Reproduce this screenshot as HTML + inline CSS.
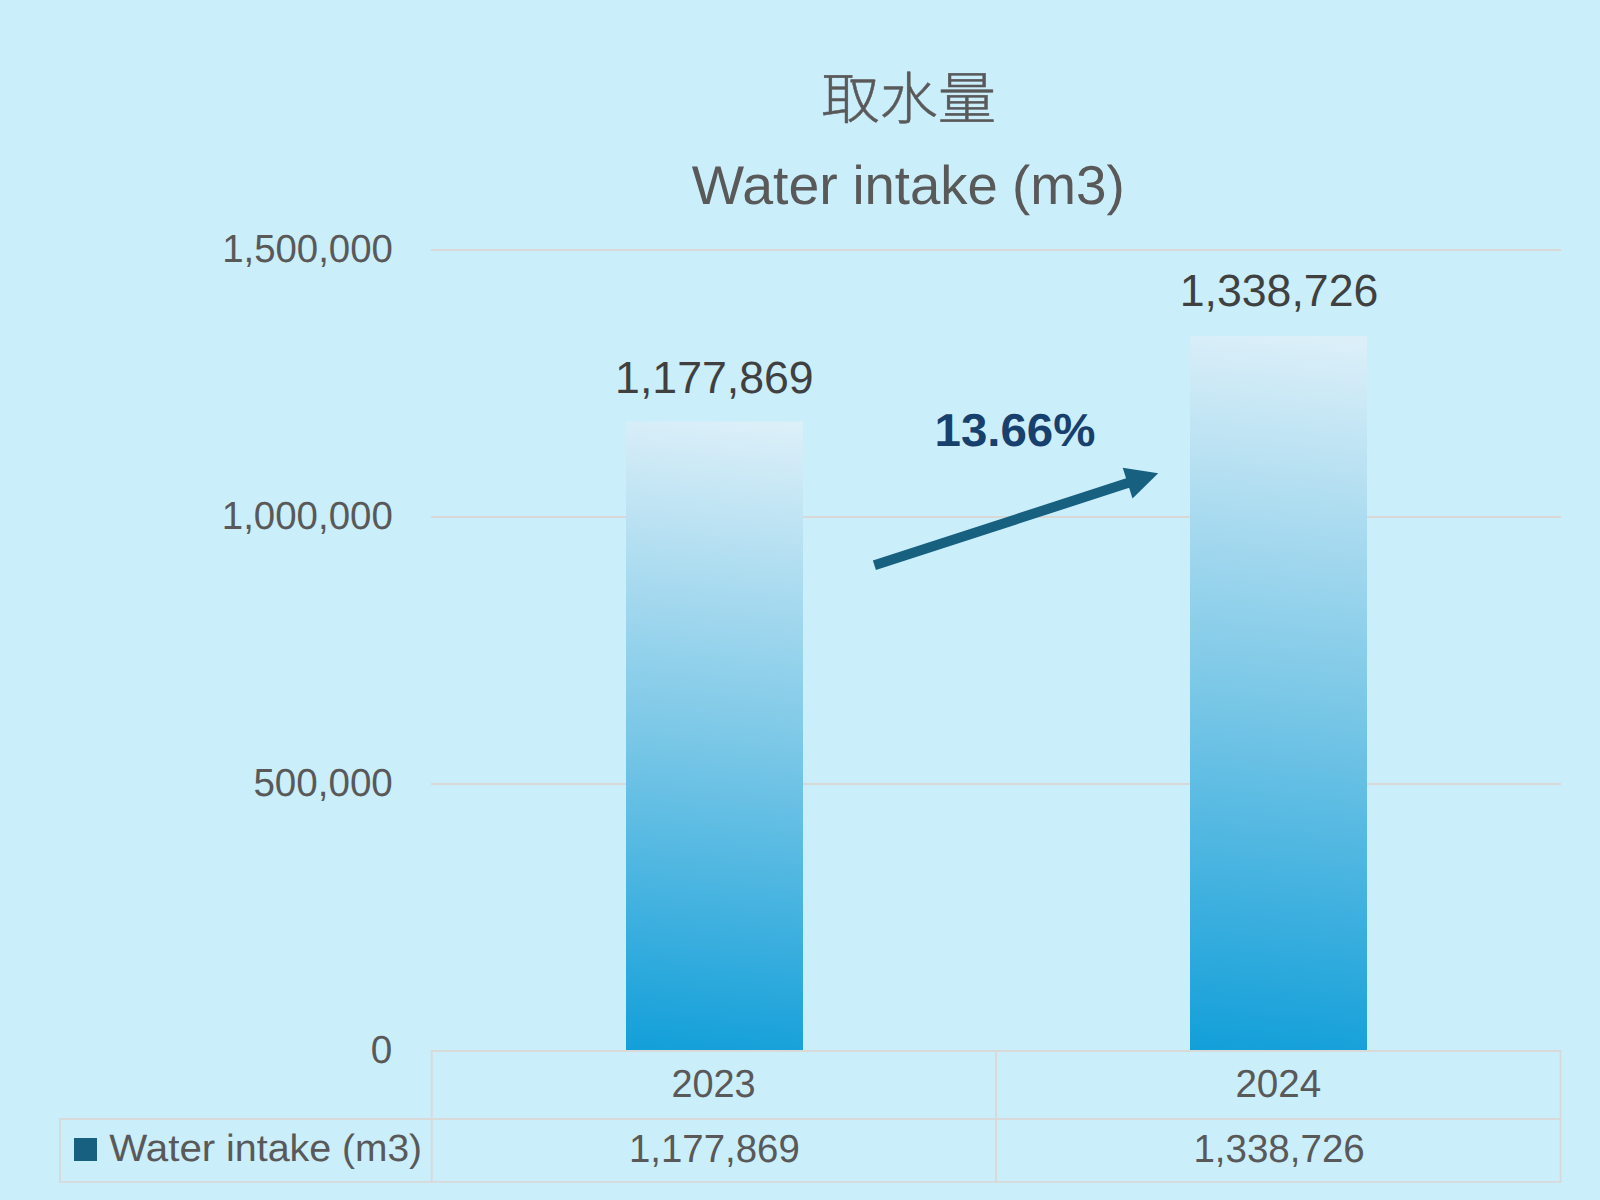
<!DOCTYPE html>
<html lang="zh-Hant">
<head>
<meta charset="utf-8">
<title>取水量 Water intake (m3)</title>
<style>
html,body{margin:0;padding:0;background:#cbeefb;}
body{width:1600px;height:1200px;overflow:hidden;}
svg{display:block;}
text{font-family:"Liberation Sans","Noto Sans CJK TC",sans-serif;fill:#595959;text-rendering:geometricPrecision;}
.cjk{font-family:"Noto Sans CJK TC","Noto Sans CJK SC",sans-serif;font-weight:300;stroke:#595959;stroke-width:0.5px;}
.dl{fill:#404040;}
.pct{font-weight:bold;fill:#17406d;}
</style>
</head>
<body>
<svg width="1600" height="1200" viewBox="0 0 1600 1200">
  <defs>
    <linearGradient id="bar1" gradientUnits="userSpaceOnUse" x1="803" y1="421.6" x2="735.8" y2="1061.5">
      <stop offset="0" stop-color="#ddf0f9"/>
      <stop offset="0.5" stop-color="#7cc8e7"/>
      <stop offset="1" stop-color="#129fd9"/>
    </linearGradient>
    <linearGradient id="bar2" gradientUnits="userSpaceOnUse" x1="1367" y1="335.8" x2="1290.8" y2="1060.6">
      <stop offset="0" stop-color="#ddf0f9"/>
      <stop offset="0.5" stop-color="#7cc8e7"/>
      <stop offset="1" stop-color="#129fd9"/>
    </linearGradient>
  </defs>
  <rect x="0" y="0" width="1600" height="1200" fill="#cbeefb"/>

  <!-- gridlines -->
  <g fill="#dad8d7">
    <rect x="431" y="249" width="1130" height="2"/>
    <rect x="431" y="516" width="1130" height="2"/>
    <rect x="431" y="783" width="1130" height="2"/>
  </g>

  <!-- bars -->
  <rect x="626" y="421.6" width="177" height="628.4" fill="url(#bar1)"/>
  <rect x="1190" y="335.8" width="177" height="714.2" fill="url(#bar2)"/>

  <!-- data table lines -->
  <g stroke="#d9d9d9" stroke-width="1.9" fill="none">
    <line x1="430.8" y1="1051" x2="1561.4" y2="1051"/>
    <line x1="59" y1="1119" x2="1561.4" y2="1119"/>
    <line x1="59" y1="1181.9" x2="1561.4" y2="1181.9"/>
    <line x1="59.9" y1="1118.1" x2="59.9" y2="1182.8"/>
    <line x1="431.7" y1="1050.1" x2="431.7" y2="1182.8"/>
    <line x1="996.1" y1="1050.1" x2="996.1" y2="1182.8"/>
    <line x1="1560.5" y1="1050.1" x2="1560.5" y2="1182.8"/>
  </g>

  <!-- title -->
  <text id="t_cjk" class="cjk" x="821.2" y="119.2" font-size="57" textLength="175" lengthAdjust="spacingAndGlyphs">取水量</text>
  <text id="t_title" y="204" font-size="54.7"><tspan id="tw1" x="691.8" textLength="146.0" lengthAdjust="spacingAndGlyphs">Water</tspan> <tspan id="tw2" x="852.4" textLength="145.4" lengthAdjust="spacingAndGlyphs">intake</tspan> <tspan id="tw3" x="1012.1" textLength="112.8" lengthAdjust="spacingAndGlyphs">(m3)</tspan></text>

  <!-- axis labels -->
  <text id="a1" x="222.2" y="262" font-size="39.2" textLength="170.7" lengthAdjust="spacingAndGlyphs">1,500,000</text>
  <text id="a2" x="221.8" y="529" font-size="39.2" textLength="171" lengthAdjust="spacingAndGlyphs">1,000,000</text>
  <text id="a3" x="253.4" y="796" font-size="39.2" textLength="139.4" lengthAdjust="spacingAndGlyphs">500,000</text>
  <text id="a4" x="370.8" y="1063" font-size="39.2" textLength="21.5" lengthAdjust="spacingAndGlyphs">0</text>

  <!-- data labels -->
  <text id="d1" class="dl" x="615.1" y="393" font-size="45.1" textLength="198.6" lengthAdjust="spacingAndGlyphs">1,177,869</text>
  <text id="d2" class="dl" x="1179.7" y="306" font-size="45.1" textLength="198.7" lengthAdjust="spacingAndGlyphs">1,338,726</text>

  <!-- percent + arrow -->
  <text id="pct" class="pct" x="934.5" y="445.6" font-size="46.2" textLength="160.9" lengthAdjust="spacingAndGlyphs">13.66%</text>
  <line x1="874.4" y1="565.3" x2="1130" y2="482.3" stroke="#17607f" stroke-width="10"/>
  <polygon points="1158.2,473.2 1122.7,467.8 1132.5,498.4" fill="#17607f"/>

  <!-- table text -->
  <text id="c1" x="671.4" y="1097" font-size="39.2" textLength="84.3" lengthAdjust="spacingAndGlyphs">2023</text>
  <text id="c2" x="1235.4" y="1097" font-size="39.2" textLength="85.9" lengthAdjust="spacingAndGlyphs">2024</text>
  <rect x="74" y="1138" width="23" height="23" fill="#17607f"/>
  <text id="lg" y="1161" font-size="38"><tspan id="lw1" x="109.3" textLength="106.0" lengthAdjust="spacingAndGlyphs">Water</tspan> <tspan id="lw2" x="226.0" textLength="105.3" lengthAdjust="spacingAndGlyphs">intake</tspan> <tspan id="lw3" x="342.0" textLength="80.0" lengthAdjust="spacingAndGlyphs">(m3)</tspan></text>
  <text id="v1" x="629.0" y="1162" font-size="39.2" textLength="170.8" lengthAdjust="spacingAndGlyphs">1,177,869</text>
  <text id="v2" x="1193.4" y="1162" font-size="39.2" textLength="171.4" lengthAdjust="spacingAndGlyphs">1,338,726</text>
</svg>
</body>
</html>
